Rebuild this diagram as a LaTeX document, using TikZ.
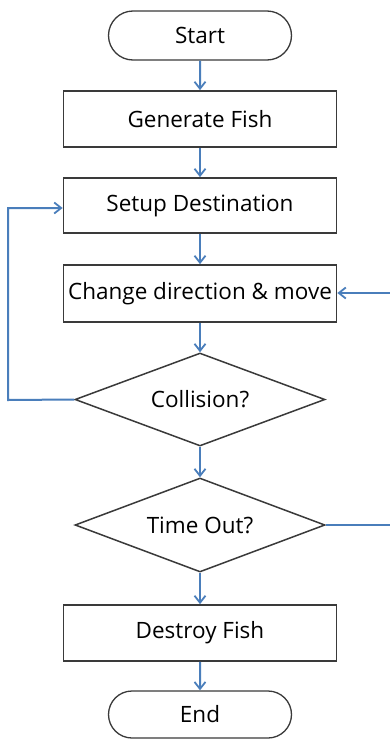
\documentclass[tikz,border=0pt]{standalone}
\usepackage{fontspec}
\setmainfont{Open Sans}
\usetikzlibrary{shapes.geometric,shapes.misc,arrows.meta}
\definecolor{arrowblue}{HTML}{4A7EBB}
\definecolor{edgegray}{HTML}{3A3A3A}
\tikzset{
  procbox/.style={draw=edgegray, line width=1.7pt, fill=white, rectangle, inner sep=0pt,
    minimum width=273pt, font=\fontsize{22.5}{24}\selectfont},
  termbox/.style={draw=edgegray, line width=1.3pt, fill=white, rounded rectangle, inner sep=0pt,
    minimum width=183pt, font=\fontsize{22.5}{24}\selectfont},
  decbox/.style={draw=edgegray, line width=1.5pt, fill=white, diamond, inner sep=0pt,
    shape aspect=2.7, minimum width=250pt, font=\fontsize{22.5}{24}\selectfont},
  flow/.style={draw=arrowblue, line width=2pt, -{Straight Barb[length=7pt,width=11pt,line width=1.8pt]}},
}
\begin{document}
\begin{tikzpicture}[x=1pt,y=-1pt]
\useasboundingbox (0,0) rectangle (390,739);
\clip (0,0) rectangle (390,739);
\node[termbox, minimum height=49pt] (start) at (200,35.5) {Start};
\node[procbox, minimum height=56pt] (gen) at (200,119) {Generate Fish};
\node[procbox, minimum height=55pt] (setup) at (200,205.5) {Setup Destination};
\node[procbox, minimum height=57pt] (change) at (200,293.5) {Change direction \& move};
\node[decbox, minimum height=93pt] (coll) at (200,399.5) {Collision?};
\node[decbox, minimum height=94pt] (time) at (200,525) {Time Out?};
\node[procbox, minimum height=56pt] (destroy) at (200,633) {Destroy Fish};
\node[termbox, minimum height=47pt] (end) at (200,714.5) {End};
\coordinate (lb) at (8,400);
\coordinate (lt) at (8,208);
\coordinate (rb) at (393,525);
\coordinate (rt) at (393,293);
\draw[flow] (start) -- (gen);
\draw[flow] (gen) -- (setup);
\draw[flow] (setup) -- (change);
\draw[flow] (change) -- (coll);
\draw[flow] (coll) -- (time);
\draw[flow] (time) -- (destroy);
\draw[flow] (destroy) -- (end);
\draw[flow] (coll.west) -- (lb) -- (lt) -- (setup.west |- lt);
\draw[flow] (time.east) -- (rb) -- (rt) -- (change.east |- rt);
\end{tikzpicture}
\end{document}
